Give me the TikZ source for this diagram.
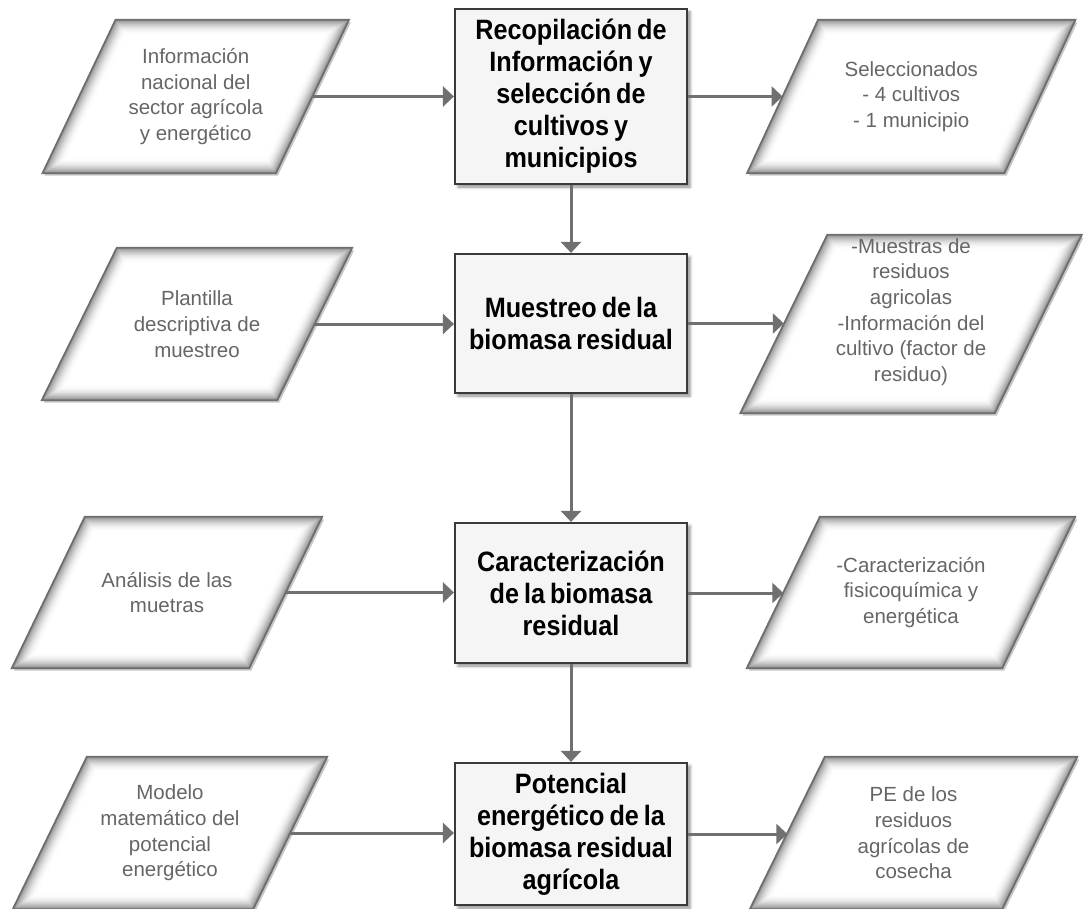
\documentclass[tikz,border=0pt]{standalone}
\usepackage{fontspec}
\setmainfont{Liberation Sans}
\newfontfamily\boxfont[FakeStretch=0.9]{Liberation Sans}
\newcommand\bxfont{\boxfont\bfseries\fontsize{28}{32}\selectfont\fontdimen2\font=5pt\relax\fontdimen3\font=1pt\relax\fontdimen4\font=1pt\relax}
\usetikzlibrary{arrows.meta,backgrounds,shadows.blur}
\definecolor{arrowgray}{HTML}{707070}
\definecolor{bordergray}{HTML}{6E6E6E}
\definecolor{textgray}{HTML}{666666}
\definecolor{boxfill}{HTML}{F5F5F5}
\definecolor{boxborder}{HTML}{3A3A3A}
\tikzset{
  procbox/.style={rectangle, draw=boxborder, line width=2.2pt, fill=boxfill,
    minimum width=232pt, text width=226pt, align=flush center, inner sep=0pt,
    font=\bxfont, text=black,
    blur shadow={shadow xshift=3pt, shadow yshift=-3pt, shadow blur radius=3pt, shadow opacity=45}},
  iobox/.style={rectangle, draw=none, inner sep=0pt,
    align=flush center, text=textgray, font=\fontsize{20.5}{25.7}\selectfont},
  ioborder/.style={draw=bordergray, line width=1.8pt, line join=miter},
  flow/.style={draw=arrowgray, line width=3pt, -{Triangle[length=11pt,width=20pt]}}
}
% #1 = node name, #2 = horizontal offset of the slant (pt)
\newcommand\ioglow[2]{%
  \begin{pgfonlayer}{background}
    \coordinate (tl) at ([xshift=#2/2*1pt]#1.north west);
    \coordinate (tr) at ([xshift=#2/2*1pt]#1.north east);
    \coordinate (br) at ([xshift=-#2/2*1pt]#1.south east);
    \coordinate (bl) at ([xshift=-#2/2*1pt]#1.south west);
    \fill[black, opacity=0.22] ([shift={(2pt,-2.5pt)}]tl) -- ([shift={(2pt,-2.5pt)}]tr) -- ([shift={(2pt,-2.5pt)}]br) -- ([shift={(2pt,-2.5pt)}]bl) -- cycle;
    \begin{scope}
      \clip (tl) -- (tr) -- (br) -- (bl) -- cycle;
      \fill[white] (tl) -- (tr) -- (br) -- (bl) -- cycle;
      \foreach \i in {0,...,14}{
        \pgfmathsetmacro\lw{(15-\i)*2}
        \pgfmathsetmacro\cc{42*((\i+1)/15)^2}
        \draw[line width=\lw pt, black!\cc, line join=miter] (tl) -- (tr) -- (br) -- (bl) -- cycle;
      }
    \end{scope}
    \draw[ioborder] (tl) -- (tr) -- (br) -- (bl) -- cycle;
  \end{pgfonlayer}}
\begin{document}
\begin{tikzpicture}[x=1pt,y=-1pt]
\useasboundingbox (0,0) rectangle (1083,909);

% process boxes
\node[procbox, minimum height=175pt] (b1) at (571,96.5) {Recopilación de\\Información y\\selección de\\cultivos y\\municipios};
\node[procbox, minimum height=139pt] (b2) at (571,323.5) {Muestreo de la\\biomasa residual};
\node[procbox, minimum height=140pt] (b3) at (571,593) {Caracterización\\de la biomasa\\residual};
\node[procbox, minimum height=142pt] (b4) at (571,834) {Potencial\\energético de la\\biomasa residual\\agrícola};

% inputs
\node[iobox, minimum width=233pt, minimum height=153pt] (i1) at (195.75,96.5) {Información\\nacional del\\sector agrícola\\y energético};
\node[iobox, minimum width=235pt, minimum height=152pt] (i2) at (197,324) {Plantilla\\descriptiva de\\muestreo};
\node[iobox, minimum width=237pt, minimum height=151pt] (i3) at (167,592.5) {Análisis de las\\muetras};
\node[iobox, minimum width=240pt, minimum height=152pt] (i4) at (170,833) {Modelo\\matemático del\\potencial\\energético};

% outputs
\node[iobox, minimum width=257pt, minimum height=153pt] (o1) at (911.25,96.5) {Seleccionados\\- 4 cultivos\\- 1 municipio};
\node[iobox, minimum width=254pt, minimum height=178pt, text depth=28pt] (o2) at (911,324) {-Muestras de\\residuos\\agricolas\\-Información del\\cultivo (factor de\\residuo)};
\node[iobox, minimum width=255pt, minimum height=151pt] (o3) at (911,592.5) {-Caracterización\\fisicoquímica y\\energética};
\node[iobox, minimum width=252pt, minimum height=152pt] (o4) at (913.5,833) {PE de los\\residuos\\agrícolas de\\cosecha};

\ioglow{i1}{73}
\ioglow{i2}{75}
\ioglow{i3}{73}
\ioglow{i4}{74}
\ioglow{o1}{71}
\ioglow{o2}{87}
\ioglow{o3}{73}
\ioglow{o4}{75}

% connectors
\foreach \k in {1,2,3,4}{
  \draw[flow] (i\k.east) -- (i\k.east -| b\k.west);
  \draw[flow] (b\k.east) -- (b\k.east -| o\k.west);
}
\draw[flow] (b1.south) -- (b2.north);
\draw[flow] (b2.south) -- (b3.north);
\draw[flow] (b3.south) -- (b4.north);
\end{tikzpicture}
\end{document}
